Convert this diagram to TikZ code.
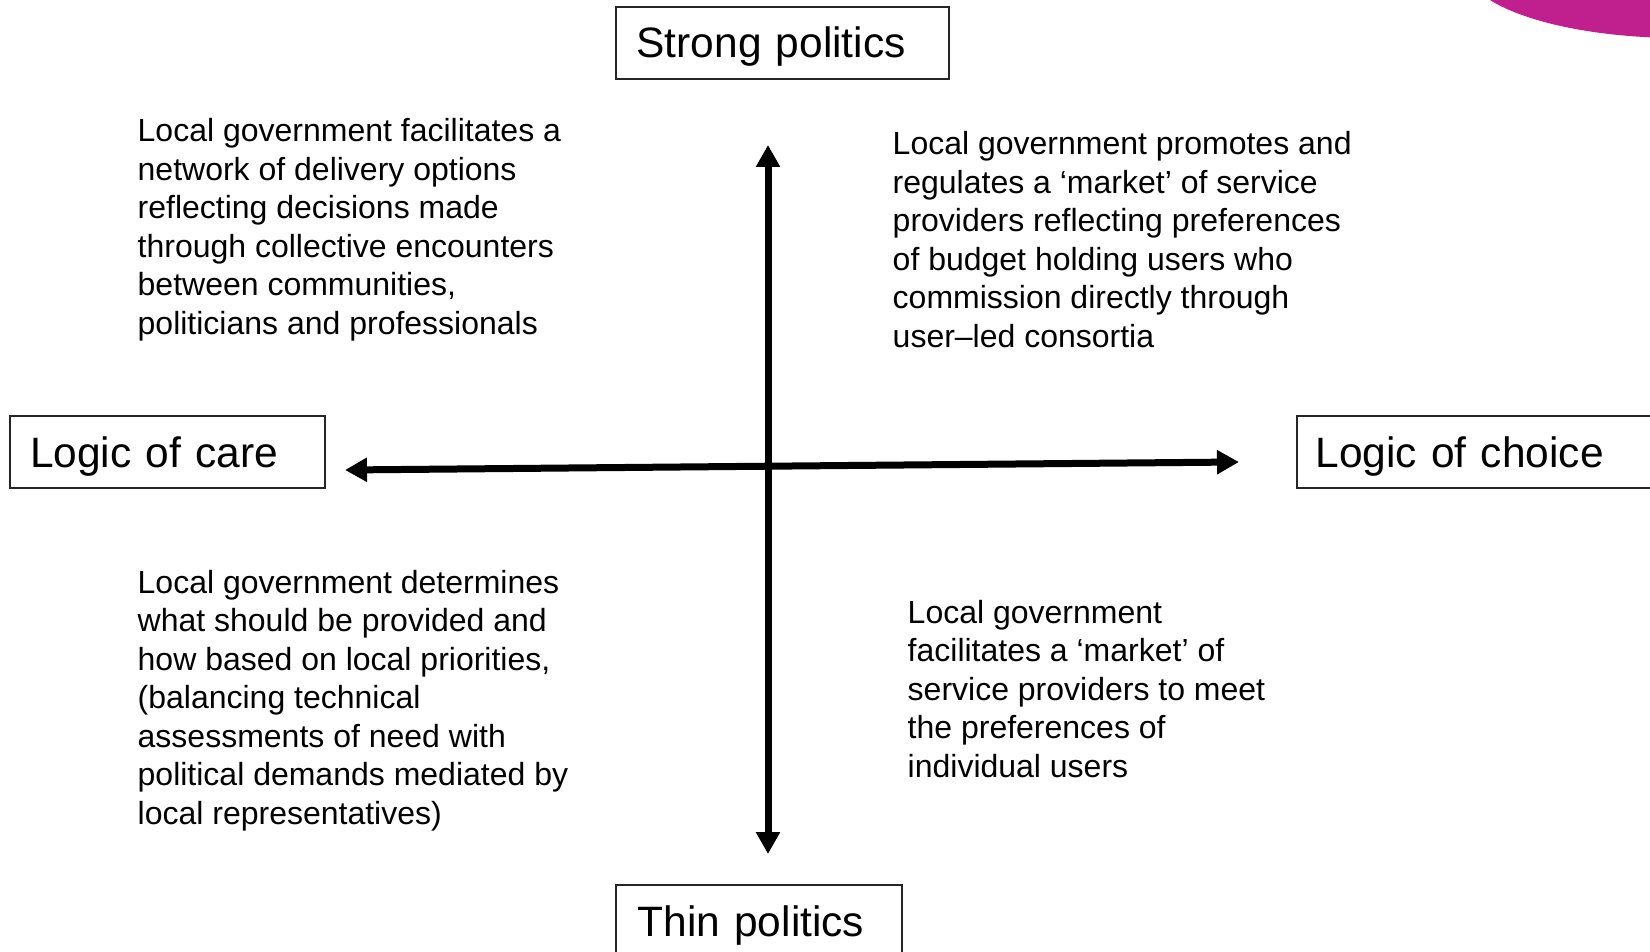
\documentclass[tikz,border=0pt]{standalone}
\usepackage{fontspec}
\setmainfont{Liberation Sans}
\usetikzlibrary{arrows.meta}
\definecolor{blobmag}{RGB}{192,32,142}
\newcommand\bodyblock[1]{\parbox[t]{620pt}{\fontsize{32}{38.5}\selectfont\raggedright #1}}
\begin{document}
\begin{tikzpicture}[x=1pt,y=-1pt,
  labelbox/.style={draw=black!85, line width=1.5pt, anchor=center, align=left,
    inner ysep=0pt, text height=30pt, text depth=0pt, minimum height=72pt,
    font=\fontsize{42.5}{50}\selectfont},
  bodytext/.style={anchor=base west, inner sep=0pt},
  axis/.style={line width=7pt, {Triangle[width=23pt,length=22pt]}-{Triangle[width=23pt,length=22pt]}}
]
\clip (0,0) rectangle (1650,952);
\fill[white] (0,0) rectangle (1650,952);
\fill[blobmag] (1680,-33.4) ellipse [x radius=215, y radius=71.4];

% label boxes
\node[labelbox, inner xsep=20.5pt, text width=292pt] (strong) at (782.5,43) {Strong politics};
\node[labelbox, inner xsep=21.5pt, text width=243pt] (thin) at (759,921) {Thin politics};
\node[labelbox, inner xsep=20pt, text width=275pt] (care) at (167.5,452) {Logic of care};
\node[labelbox, inner xsep=18.5pt, text width=333pt] (choice) at (1482,452) {Logic of choice};

% axes
\coordinate (top) at (768,145);
\coordinate (bot) at (768,854);
\coordinate (left) at (345,470);
\coordinate (right) at (1239,462);
\draw[axis] (bot) -- (top);
\draw[axis] (left) -- (right);

% quadrant texts
\node[bodytext] (tl) at (137.5,141.7) {\bodyblock{Local government facilitates a\\network of delivery options\\reflecting decisions made\\through collective encounters\\between communities,\\politicians and professionals}};
\node[bodytext] (tr) at (892.5,155) {\bodyblock{Local government promotes and\\regulates a ‘market’ of service\\providers reflecting preferences\\of budget holding users who\\commission directly through\\user–led consortia}};
\node[bodytext] (bl) at (137.5,593) {\bodyblock{Local government determines\\what should be provided and\\how based on local priorities,\\(balancing technical\\assessments of need with\\political demands mediated by\\local representatives)}};
\node[bodytext] (br) at (907.5,623) {\bodyblock{Local government\\facilitates a ‘market’ of\\service providers to meet\\the preferences of\\individual users}};
\end{tikzpicture}
\end{document}
